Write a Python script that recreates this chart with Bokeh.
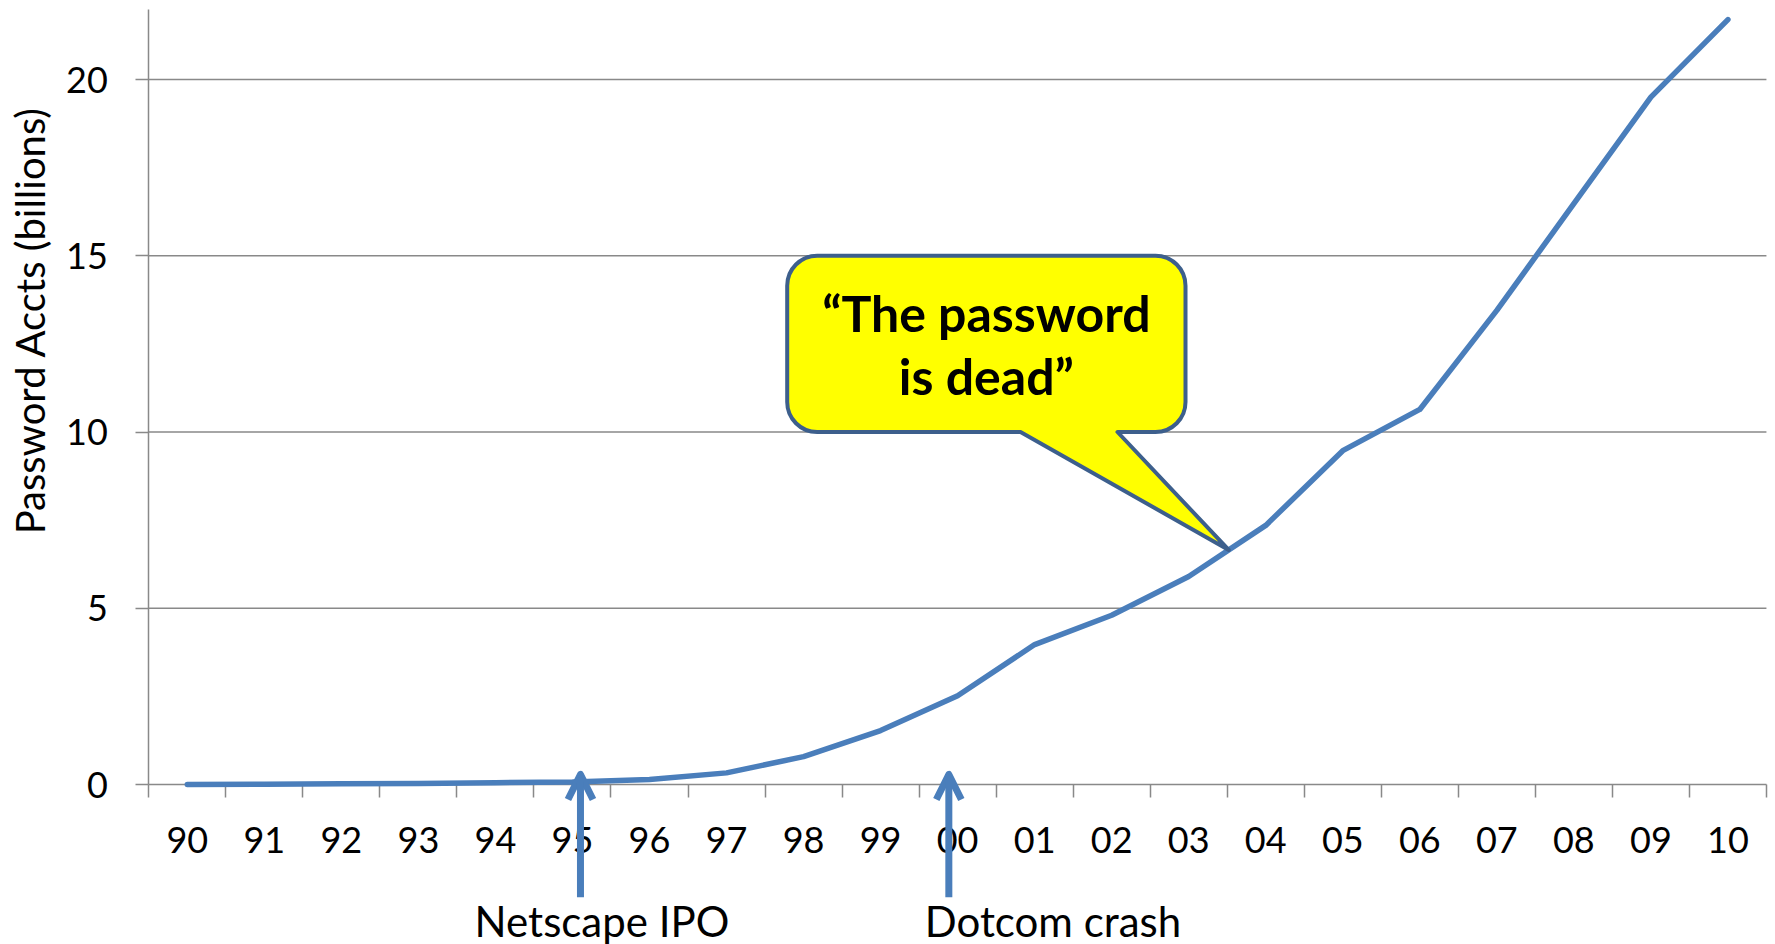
import numpy as np
from bokeh.plotting import figure
from bokeh.models import Range1d, LinearAxis, FixedTicker, Arrow, OpenHead
from bokeh.core.properties import value
from bokeh.embed import file_html
from bokeh.resources import INLINE

# ---------------- data ----------------
years = ["90", "91", "92", "93", "94", "95", "96", "97", "98", "99", "00",
         "01", "02", "03", "04", "05", "06", "07", "08", "09", "10"]
accounts = [0.0, 0.01, 0.02, 0.03, 0.05, 0.07, 0.14, 0.33, 0.79, 1.53, 2.52,
            3.97, 4.80, 5.90, 7.35, 9.47, 10.64, 13.45, 16.48, 19.50, 21.70]
y_ticks = [0, 5, 10, 15, 20]
y_max = 22
y_label = "Password Accts (billions)"
event_names = ["Netscape IPO", "Dotcom crash"]
event_years = ["95", "00"]
callout_lines = ["\u201cThe password", "is dead\u201d"]
callout_between = ["03", "04"]

# ---------------- layout helpers ----------------
W, H = 1775, 944
X0, CW = 148.3, 77.03      # left edge of plot area, width of one category (px)
Y0, YU = 784.0, 35.25      # pixel row of value 0, pixels per unit

def px_x(px):
    return (px - X0) / CW

def px_y(py):
    return (Y0 - py) / YU

n = len(years)
xs = [i + 0.5 for i in range(n)]

BLUE = "#4A7EBB"
GRAY = "#898989"
BORDER = "#3D5F8C"
YELLOW = "#FFFF00"
FONT = "Lato"

p = figure(width=W, height=H,
           x_range=Range1d(px_x(0), px_x(W)), y_range=Range1d(px_y(H), px_y(0)),
           output_backend="svg", toolbar_location=None,
           x_axis_type=None, y_axis_type=None, min_border=0,
           outline_line_color=None, title=None,
           background_fill_color="white", border_fill_color="white")

# x axis (ticks between categories, labels at centres)
xaxis = LinearAxis(fixed_location=0, bounds=(0, n),
                   ticker=FixedTicker(ticks=xs, minor_ticks=list(range(n + 1))),
                   major_label_overrides={x: y for x, y in zip(xs, years)},
                   axis_line_color=GRAY, axis_line_width=1.5,
                   major_tick_line_color=None, major_tick_in=0, major_tick_out=0,
                   minor_tick_line_color=GRAY, minor_tick_line_width=1.5,
                   minor_tick_in=0, minor_tick_out=13,
                   major_label_standoff=29,
                   major_label_text_font=FONT, major_label_text_font_size="36px",
                   major_label_text_color="black", level="underlay")
p.add_layout(xaxis, "below")

yaxis = LinearAxis(fixed_location=0, bounds=(0, y_max),
                   ticker=FixedTicker(ticks=y_ticks, minor_ticks=[]),
                   axis_line_color=GRAY, axis_line_width=1.5,
                   major_tick_line_color=GRAY, major_tick_line_width=1.5,
                   major_tick_in=0, major_tick_out=13,
                   minor_tick_line_color=None,
                   major_label_standoff=28,
                   major_label_text_font=FONT, major_label_text_font_size="36px",
                   major_label_text_color="black", level="underlay")
p.add_layout(yaxis, "left")

# horizontal grid lines
gy = y_ticks[1:]
p.segment(x0=[0] * len(gy), x1=[n] * len(gy), y0=gy, y1=gy,
          line_color=GRAY, line_width=1.5)

# axis title
p.text(x=[px_x(29)], y=[px_y(320)], text=[y_label], angle=np.pi / 2,
       text_align="center", text_baseline="middle",
       text_font=value(FONT), text_font_size="40px", text_color="black")

# data line
p.line(xs, accounts, line_color=BLUE, line_width=5.5,
       line_join="round", line_cap="round")

# callout
i3 = years.index(callout_between[0])
i4 = years.index(callout_between[1])
f = 0.52
tip_x = xs[i3] + f * (xs[i4] - xs[i3])
tip_y = accounts[i3] + f * (accounts[i4] - accounts[i3])
bl, br, bb, bt = px_x(786.7), px_x(1185), 10, 15
p.quad(left=[bl], right=[br], bottom=[bb], top=[bt], fill_color=YELLOW,
       line_color=BORDER, line_width=4, border_radius=30)
t1, t2 = px_x(1020), px_x(1117)
p.patch([t1, t1, t2, t2, tip_x], [bb, bb + 0.12, bb + 0.12, bb, tip_y],
        fill_color=YELLOW, line_color=None)
p.line([t1, tip_x, t2], [bb, tip_y, bb], line_color=BORDER, line_width=4,
       line_join="round", line_cap="round")
cx = (bl + br) / 2
p.text(x=[cx, cx], y=[px_y(312), px_y(375)], text=callout_lines,
       text_align="center", text_baseline="alphabetic",
       text_font=value(FONT), text_font_style="bold", text_font_size="50px",
       text_color="black")

# event arrows
arrow_shift = [0.104, -0.114]
label_shift = [0.383, 1.238]
for name, yr, ash, lsh in zip(event_names, event_years, arrow_shift, label_shift):
    idx = years.index(yr)
    ax = xs[idx] + ash
    p.add_layout(Arrow(end=OpenHead(size=25, line_color=BLUE, line_width=7,
                                    line_join="round"),
                       x_start=ax, y_start=px_y(896.7), x_end=ax, y_end=px_y(774),
                       line_color=BLUE, line_width=7))
    p.text(x=[xs[idx] + lsh], y=[px_y(920)], text=[name],
           text_align="center", text_baseline="alphabetic",
           text_font=value(FONT), text_font_size="42px", text_color="black")

open("out.html", "w").write(file_html(p, INLINE))
